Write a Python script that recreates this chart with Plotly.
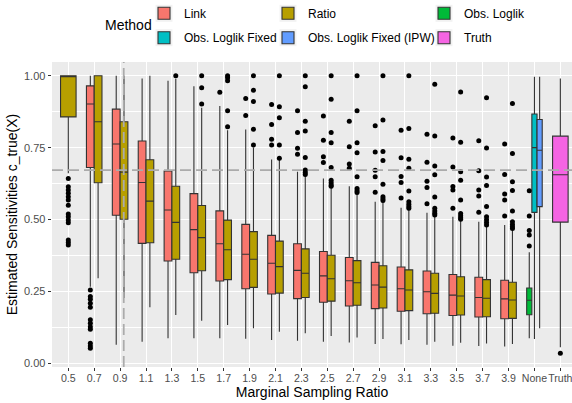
import plotly.graph_objects as go

# ---------------- data ----------------
CATEGORIES = ["0.5", "0.7", "0.9", "1.1", "1.3", "1.5", "1.7", "1.9", "2.1", "2.3",
              "2.5", "2.7", "2.9", "3.1", "3.3", "3.5", "3.7", "3.9", "None", "Truth"]

# Link (0.7 .. 3.9)
LINK_CATS = ["0.7", "0.9", "1.1", "1.3", "1.5", "1.7", "1.9", "2.1", "2.3",
             "2.5", "2.7", "2.9", "3.1", "3.3", "3.5", "3.7", "3.9"]
LINK_Q1 = [0.681, 0.515, 0.417, 0.356, 0.315, 0.286, 0.259, 0.241, 0.225,
           0.212, 0.199, 0.190, 0.181, 0.172, 0.166, 0.161, 0.155]
LINK_MED = [0.902, 0.763, 0.629, 0.533, 0.465, 0.416, 0.379, 0.348, 0.323,
            0.304, 0.287, 0.272, 0.259, 0.249, 0.237, 0.229, 0.224]
LINK_Q3 = [0.965, 0.884, 0.773, 0.669, 0.590, 0.530, 0.483, 0.445, 0.416,
           0.389, 0.368, 0.351, 0.335, 0.321, 0.309, 0.299, 0.289]
LINK_LO = [0.266, 0.064, 0.075, 0.087, 0.087, 0.087, 0.085, 0.081, 0.078,
           0.075, 0.072, 0.067, 0.066, 0.064, 0.061, 0.060, 0.058]
LINK_HI = [1.000, 1.000, 0.991, 0.983, 0.964, 0.895, 0.813, 0.709, 0.666,
           0.643, 0.616, 0.562, 0.541, 0.524, 0.510, 0.492, 0.481]
LINK_OUTLIERS = {
    "0.7": [0.255, 0.232, 0.223, 0.209, 0.195, 0.151, 0.139, 0.127, 0.118, 0.070, 0.060, 0.052],
    "1.7": [0.943],
    "1.9": [0.921, 0.862],
    "2.1": [0.900, 0.831, 0.779, 0.759],
    "2.3": [0.878, 0.803, 0.748, 0.727],
    "2.5": [0.860, 0.776, 0.718, 0.698],
    "2.7": [0.842, 0.753, 0.693, 0.678],
    "2.9": [0.826, 0.735, 0.671, 0.649, 0.595],
    "3.1": [0.811, 0.715, 0.650, 0.629, 0.575],
    "3.3": [0.797, 0.699, 0.633, 0.611, 0.555],
    "3.5": [0.784, 0.683, 0.615, 0.603, 0.539],
    "3.7": [0.774, 0.670, 0.603, 0.582, 0.525],
    "3.9": [0.763, 0.657, 0.589, 0.568, 0.512],
}

# Ratio (0.5 .. 3.9)
RATIO_CATS = ["0.5", "0.7", "0.9", "1.1", "1.3", "1.5", "1.7", "1.9", "2.1", "2.3",
              "2.5", "2.7", "2.9", "3.1", "3.3", "3.5", "3.7", "3.9"]
RATIO_Q1 = [0.857, 0.628, 0.501, 0.419, 0.362, 0.322, 0.291, 0.264, 0.244, 0.229,
            0.216, 0.202, 0.192, 0.183, 0.174, 0.168, 0.162, 0.156]
RATIO_MED = [1.000, 0.840, 0.665, 0.564, 0.490, 0.437, 0.395, 0.362, 0.336, 0.313,
             0.294, 0.280, 0.265, 0.255, 0.243, 0.234, 0.226, 0.220]
RATIO_Q3 = [1.000, 1.000, 0.840, 0.708, 0.616, 0.549, 0.498, 0.458, 0.425, 0.398,
            0.376, 0.357, 0.339, 0.325, 0.313, 0.301, 0.291, 0.282]
RATIO_LO = [0.661, 0.296, 0.227, 0.195, 0.168, 0.148, 0.133, 0.122, 0.110, 0.104,
            0.095, 0.090, 0.084, 0.081, 0.075, 0.071, 0.069, 0.067]
RATIO_HI = [1.000, 1.000, 1.000, 1.000, 0.990, 0.889, 0.811, 0.751, 0.707, 0.655,
            0.612, 0.588, 0.560, 0.535, 0.512, 0.498, 0.478, 0.465]
RATIO_OUTLIERS = {
    "0.5": [0.643, 0.614, 0.603, 0.591, 0.579, 0.568, 0.550, 0.519, 0.510, 0.498, 0.489, 0.429, 0.420, 0.411],
    "1.3": [1.000],
    "1.5": [1.000, 0.958, 0.902],
    "1.7": [1.000, 0.993, 0.983, 0.878, 0.823],
    "1.9": [1.000, 0.950, 0.911, 0.814, 0.759],
    "2.1": [1.000, 0.892, 0.854, 0.759, 0.713],
    "2.3": [1.000, 0.962, 0.842, 0.808, 0.716, 0.672, 0.664, 0.657],
    "2.5": [1.000, 0.918, 0.803, 0.767, 0.681, 0.637, 0.628, 0.620, 0.616],
    "2.7": [1.000, 0.878, 0.767, 0.732, 0.649, 0.608, 0.600, 0.594],
    "2.9": [1.000, 0.846, 0.737, 0.705, 0.623, 0.579, 0.572, 0.566],
    "3.1": [1.000, 0.817, 0.710, 0.678, 0.599, 0.562, 0.553, 0.545, 0.539],
    "3.3": [0.971, 0.791, 0.686, 0.656, 0.578, 0.539, 0.530, 0.522, 0.516],
    "3.5": [0.944, 0.769, 0.666, 0.637, 0.568, 0.521, 0.513, 0.506, 0.501],
    "3.7": [0.924, 0.749, 0.648, 0.618, 0.545, 0.510, 0.499, 0.490, 0.481],
    "3.9": [0.904, 0.730, 0.631, 0.601, 0.530, 0.492, 0.483, 0.475, 0.469],
}

# Single-category methods: [q1, median, q3, lower whisker, upper whisker]
OBS_LOGLIK = {"cat": "None", "stats": [0.169, 0.219, 0.262, 0.087, 0.386],
              "outliers": [0.600, 0.512, 0.462, 0.446, 0.408]}
OBS_LOGLIK_FIXED = {"cat": "None", "stats": [0.525, 0.750, 0.867, 0.084, 0.997], "outliers": []}
OBS_LOGLIK_IPW = {"cat": "None", "stats": [0.545, 0.741, 0.848, 0.122, 0.997], "outliers": []}
TRUTH = {"cat": "Truth", "stats": [0.491, 0.656, 0.790, 0.056, 0.991], "outliers": [0.035]}

REFERENCE_SENSITIVITY = 0.672   # horizontal dashed line
REFERENCE_RATIO = 0.928         # vertical dashed line (marginal sampling ratio)

# ---------------- style ----------------
COLORS = {
    "Link": "#F8766D", "Ratio": "#B79F00", "Obs. Loglik": "#00BA38",
    "Obs. Loglik Fixed": "#00BFC4", "Obs. Loglik Fixed (IPW)": "#619CFF", "Truth": "#F564E3",
}
FONT = "Liberation Sans, Arial, sans-serif"
OUTLINE = "#333333"
W, H = 572, 403
L, T, PW, PH = 52, 62, 520, 305


def idx(cat):
    return CATEGORIES.index(cat)


def pxx(px):
    return (px - L) / PW


def pxy(py):
    return (T + PH - py) / PH


fig = go.Figure()


def add_box(name, cats, q1, med, q3, lo, hi, offset, width, legend, showlegend):
    xs = [idx(c) + offset for c in cats]
    fig.add_trace(go.Box(
        x=xs, q1=q1, median=med, q3=q3, lowerfence=lo, upperfence=hi,
        name=name, legendgroup=name, legend=legend, showlegend=showlegend,
        width=width, whiskerwidth=0, boxpoints=False,
        fillcolor=COLORS[name], line=dict(color=OUTLINE, width=1.1),
    ))


def add_outliers(name, outlier_map, offset):
    xs, ys = [], []
    for c, vals in outlier_map.items():
        for v in vals:
            xs.append(idx(c) + offset)
            ys.append(v)
    if xs:
        fig.add_trace(go.Scatter(x=xs, y=ys, mode="markers", showlegend=False,
                                 legendgroup=name,
                                 marker=dict(color="black", size=5), hoverinfo="y"))


# Link boxes (dodged left)
add_box("Link", LINK_CATS, LINK_Q1, LINK_MED, LINK_Q3, LINK_LO, LINK_HI, -0.15, 0.3, "legend", True)
add_outliers("Link", LINK_OUTLIERS, -0.15)

# Ratio boxes: 0.5 alone (full width), others dodged right
add_box("Ratio", RATIO_CATS[:1], RATIO_Q1[:1], RATIO_MED[:1], RATIO_Q3[:1], RATIO_LO[:1], RATIO_HI[:1],
        0.0, 0.6, "legend2", True)
add_box("Ratio", RATIO_CATS[1:], RATIO_Q1[1:], RATIO_MED[1:], RATIO_Q3[1:], RATIO_LO[1:], RATIO_HI[1:],
        0.15, 0.3, "legend2", False)
add_outliers("Ratio", {k: v for k, v in RATIO_OUTLIERS.items() if k == "0.5"}, 0.0)
add_outliers("Ratio", {k: v for k, v in RATIO_OUTLIERS.items() if k != "0.5"}, 0.15)

single = [
    ("Obs. Loglik", OBS_LOGLIK, -0.2, 0.2, "legend3"),
    ("Obs. Loglik Fixed", OBS_LOGLIK_FIXED, 0.0, 0.2, "legend4"),
    ("Obs. Loglik Fixed (IPW)", OBS_LOGLIK_IPW, 0.2, 0.2, "legend5"),
    ("Truth", TRUTH, 0.0, 0.6, "legend6"),
]
for name, d, off, wd, lg in single:
    s = d["stats"]
    add_box(name, [d["cat"]], [s[0]], [s[1]], [s[2]], [s[3]], [s[4]], off, wd, lg, True)
    add_outliers(name, {d["cat"]: d["outliers"]}, off)

# ---------------- legends (3 columns x 2 rows) ----------------
text_x = [184, 308, 464]
row_y = [13.3, 37.7]
legend_slots = {
    "legend": (0, 0), "legend2": (1, 0), "legend3": (2, 0),
    "legend4": (0, 1), "legend5": (1, 1), "legend6": (2, 1),
}
shapes = []
layout_legends = {}
for lg, (col, row) in legend_slots.items():
    lx = text_x[col] - 40
    layout_legends[lg] = dict(
        x=pxx(lx), y=pxy(row_y[row]), xref="paper", yref="paper",
        xanchor="left", yanchor="middle", orientation="v",
        bgcolor="rgba(0,0,0,0)", borderwidth=0, itemwidth=30,
        font=dict(family=FONT, size=12, color="black"),
    )
    cx = lx + 20
    cy = row_y[row]
    shapes.append(dict(type="rect", xref="paper", yref="paper",
                       x0=pxx(cx - 8.5), x1=pxx(cx + 8.5), y0=pxy(cy + 8.5), y1=pxy(cy - 8.5),
                       fillcolor="#F2F2F2", line=dict(width=0), layer="below"))

# reference dashed lines
vline_x = (REFERENCE_RATIO - float(CATEGORIES[0])) / (float(CATEGORIES[1]) - float(CATEGORIES[0]))
dash_style = dict(color="#ABABAB", width=1.8, dash="11px,5px")
shapes.append(dict(type="line", xref="paper", yref="y", x0=0, x1=1,
                   y0=REFERENCE_SENSITIVITY, y1=REFERENCE_SENSITIVITY, line=dash_style, layer="above"))
shapes.append(dict(type="line", xref="x", yref="paper", x0=vline_x, x1=vline_x,
                   y0=0, y1=1, line=dash_style, layer="above"))

fig.update_layout(
    width=W, height=H,
    margin=dict(l=L, r=W - L - PW, t=T, b=H - T - PH, pad=0, autoexpand=False),
    paper_bgcolor="white", plot_bgcolor="#EBEBEB",
    font=dict(family=FONT, color="black"),
    boxmode="overlay",
    shapes=shapes,
    annotations=[dict(text="Method", x=pxx(128.3), y=pxy(25), xref="paper", yref="paper",
                      xanchor="center", yanchor="middle", showarrow=False,
                      font=dict(family=FONT, size=14, color="black"))],
    **layout_legends,
)

fig.update_xaxes(
    range=[-0.63, 19.45], tickmode="array", tickvals=list(range(len(CATEGORIES))),
    ticktext=CATEGORIES, showgrid=True, gridcolor="white", gridwidth=1.1,
    zeroline=False, ticks="outside", ticklen=3.4, tickwidth=1.1, tickcolor=OUTLINE,
    tickfont=dict(family=FONT, size=10.6, color="#4D4D4D"), tickangle=0,
    ticklabeloverflow="allow", ticklabelstandoff=-2,
    title=dict(text="Marginal Sampling Ratio", font=dict(family=FONT, size=14, color="black"), standoff=4),
    showline=False,
)
fig.update_yaxes(
    range=[-0.013, 1.048], tickmode="array", tickvals=[0, 0.25, 0.5, 0.75, 1.0], tickformat=".2f",
    showgrid=True, gridcolor="white", gridwidth=1.1, zeroline=False,
    minor=dict(tickmode="array", tickvals=[0.125, 0.375, 0.625, 0.875], showgrid=True,
               gridcolor="white", gridwidth=0.55, ticks=""),
    ticks="outside", ticklen=3.4, tickwidth=1.1, tickcolor=OUTLINE,
    tickfont=dict(family=FONT, size=11, color="#4D4D4D"),
    title=dict(text="Estimated Sensitivities c_true(X)", font=dict(family=FONT, size=14, color="black"), standoff=3),
    showline=False,
)

fig.write_html("out.html")
